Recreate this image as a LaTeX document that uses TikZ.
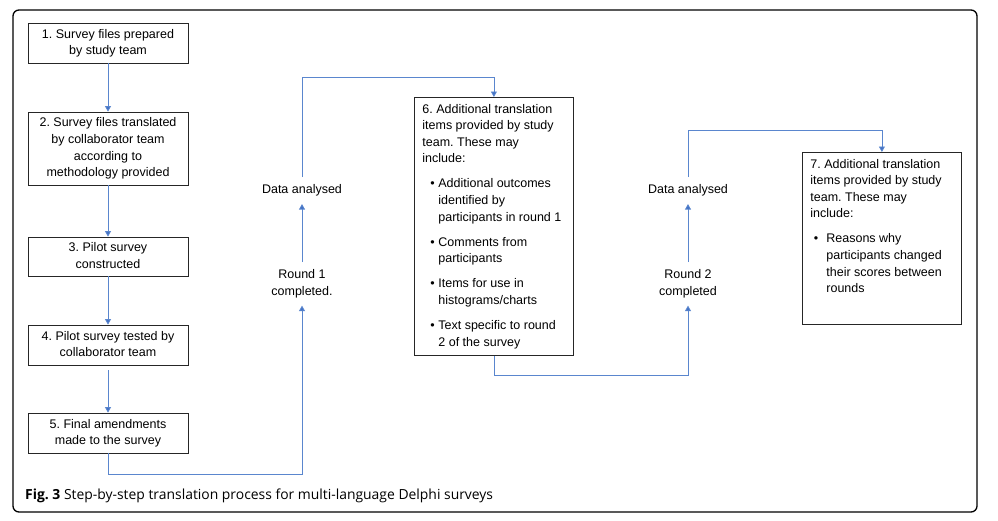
\documentclass[tikz,border=0pt]{standalone}
\usepackage{fontspec}
\setmainfont{Liberation Sans}
\newfontfamily\capfont{Open Sans}
\usetikzlibrary{arrows.meta,calc}
\frenchspacing
\definecolor{flow}{HTML}{5A86CE}
\definecolor{tipblue}{HTML}{4472C4}
\newcommand\blA{\makebox[16pt][l]{\hspace{8pt}\textbullet}}
\newcommand\blB{\makebox[16pt][l]{\hspace{3.5pt}\textbullet}}
\newcommand\ind{\hspace*{16pt}}
\begin{document}
\begin{tikzpicture}[x=1pt,y=-1pt,
  every node/.style={font=\frenchspacing\fontsize{12.5pt}{16.6pt}\selectfont},
  stepbox/.style={draw=black!85, line width=0.8pt, minimum width=160pt, inner sep=0pt, align=center},
  listbox/.style={draw=black!85, line width=0.8pt, inner xsep=8pt, inner ysep=4pt, anchor=north west},
  flowtext/.style={align=center, inner xsep=2pt, inner ysep=7.5pt, anchor=north},
  flowline/.style={draw=flow, line width=0.75pt, -{Triangle[length=5.5pt,width=6pt,fill=tipblue]}}
]
\useasboundingbox (0,0) rectangle (998,520);
\draw[line width=1.3pt, rounded corners=6pt] (13,10) rectangle (977,512);

\node[stepbox, minimum height=40pt] (b1) at (108,43) {\raisebox{-1.5pt}{\begin{tabular}{@{}c@{}}1. Survey files prepared\\by study team\end{tabular}}};
\node[stepbox, minimum height=73pt] (b2) at (108,148.5) {\raisebox{-1.5pt}{\begin{tabular}{@{}c@{}}2. Survey files translated\\by collaborator team\\according to\\methodology provided\end{tabular}}};
\node[stepbox, minimum height=39pt] (b3) at (108,256.5) {\raisebox{-1.5pt}{\begin{tabular}{@{}c@{}}3. Pilot survey\\constructed\end{tabular}}};
\node[stepbox, minimum height=40pt] (b4) at (108,345) {\raisebox{-1.5pt}{\begin{tabular}{@{}c@{}}4. Pilot survey tested by\\collaborator team\end{tabular}}};
\node[stepbox, minimum height=40pt] (b5) at (108,433) {\raisebox{-1.5pt}{\begin{tabular}{@{}c@{}}5. Final amendments\\made to the survey\end{tabular}}};

\node[listbox] (b6) at (414,97) {\parbox[t][250pt][t]{143pt}{\frenchspacing\strut 6. Additional translation\\
items provided by study\\
team. These may\\
include:\\[8.5pt]
\blA Additional outcomes\\
\ind identified by\\
\ind participants in round 1\\[8.5pt]
\blA Comments from\\
\ind participants\\[8.5pt]
\blA Items for use in\\
\ind histograms/charts\\[8.5pt]
\blA Text specific to round\\
\ind 2 of the survey}};

\node[listbox] (b7) at (802,152) {\parbox[t][164pt][t]{143pt}{\frenchspacing\strut 7. Additional translation\\
items provided by study\\
team. These may\\
include:\\[8.5pt]
\blB Reasons why\\
\ind participants changed\\
\ind their scores between\\
\ind rounds}};

\node[flowtext] (r1) at (302,262) {Round 1\\completed.};
\node[flowtext] (d1) at (302,177) {Data analysed};
\node[flowtext] (r2) at (688,262) {Round 2\\completed};
\node[flowtext] (d2) at (688,177) {Data analysed};

\node[anchor=base west, inner sep=0pt, font=\capfont\fontsize{13.9pt}{16pt}\selectfont] (cap) at (25,499) {\textbf{Fig. 3} Step-by-step translation process for multi-language Delphi surveys};

\path[flowline] (b1.south) -- (b2.north);
\path[flowline] (b2.south) -- (b3.north);
\path[flowline] (b3.south) -- (b4.north);
\path[flowline, shorten <=5pt] (b4.south) -- (b5.north);
\path[flowline] (b5.south) -- ++(0,21) -| (r1.south);
\path[flowline] (r1.north) -- (d1.south);
\path[flowline] (d1.north) -- (d1.north |- 0,77) -| (b6.north);
\path[flowline] (b6.south) -- ++(0,20) -| (r2.south);
\path[flowline] (r2.north) -- (d2.south);
\path[flowline] (d2.north) -- (d2.north |- 0,130) -| (b7.north);
\end{tikzpicture}
\end{document}
